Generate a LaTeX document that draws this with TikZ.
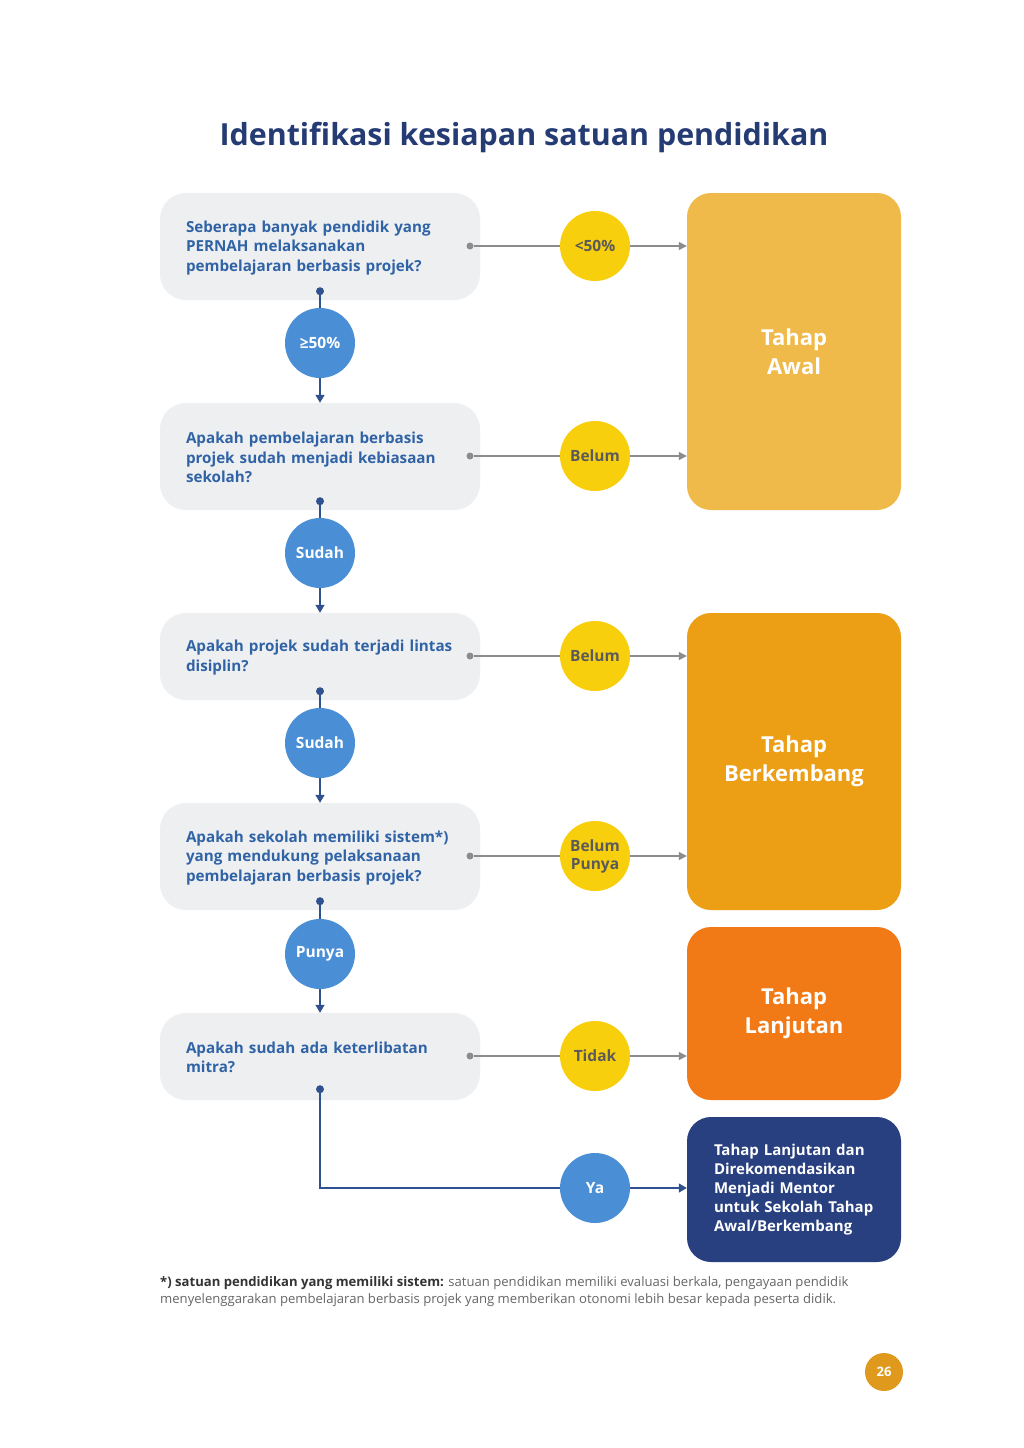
\documentclass[tikz,border=0pt]{standalone}
\usepackage{fontspec}
\setmainfont{Open Sans}
\usetikzlibrary{arrows.meta}

\definecolor{judul}{HTML}{253B73}
\definecolor{tanya}{HTML}{2F63A6}
\definecolor{kotak}{HTML}{EEEFF1}
\definecolor{kuning}{HTML}{F8CF0C}
\definecolor{teksabu}{HTML}{5A5A5A}
\definecolor{biru}{HTML}{4A8FD6}
\definecolor{garisbiru}{HTML}{30518F}
\definecolor{abu}{HTML}{8C8C8C}
\definecolor{awal}{HTML}{F0BA4B}
\definecolor{kembang}{HTML}{EC9E14}
\definecolor{lanjut}{HTML}{F27A16}
\definecolor{mentor}{HTML}{283F80}
\definecolor{halaman}{HTML}{DF9A1E}

\tikzset{
  tanyabox/.style={fill=kotak, rounded corners=26pt, text width=268pt, inner xsep=26pt,
    align=left, text=tanya, font=\bfseries\fontsize{15.2}{19.5}\selectfont},
  tahapbox/.style={rounded corners=24pt, minimum width=214pt, text=white, align=center,
    font=\bfseries\fontsize{22}{29}\selectfont},
  kuningbulat/.style={circle, fill=kuning, minimum size=70pt, inner sep=0pt, align=center,
    text=teksabu, font=\bfseries\fontsize{15.5}{19}\selectfont},
  birubulat/.style={circle, fill=biru, minimum size=70pt, inner sep=0pt,
    text=white, font=\bfseries\fontsize{15.5}{19}\selectfont},
  titikabu/.style={circle, fill=abu, minimum size=7pt, inner sep=0pt},
  titikbiru/.style={circle, fill=garisbiru, minimum size=8pt, inner sep=0pt},
  garisabu/.style={draw=abu, line width=1.2pt},
  garisbiru/.style={draw=garisbiru, line width=1.2pt},
}

\begin{document}
\begin{tikzpicture}[x=1pt, y=-1pt]
    \useasboundingbox[fill=white] (0,0) rectangle (1024,1448);

    % 标题
    \node[text=judul, font=\bfseries\fontsize{30.4}{36}\selectfont] (judul) at (524,138) {Identifikasi kesiapan satuan pendidikan};

    % 问题框
    \node[tanyabox, minimum height=107pt] (q1) at (320,246.5) {\strut Seberapa banyak pendidik yang\\PERNAH melaksanakan\\pembelajaran berbasis projek?};
    \node[tanyabox, minimum height=107pt] (q2) at (320,456.5) {\strut Apakah pembelajaran berbasis\\projek sudah menjadi kebiasaan\\sekolah?};
    \node[tanyabox, minimum height=87pt] (q3) at (320,656.5) {\strut Apakah projek sudah terjadi lintas\\disiplin?};
    \node[tanyabox, minimum height=107pt] (q4) at (320,856.5) {\strut Apakah sekolah memiliki sistem*)\\yang mendukung pelaksanaan\\pembelajaran berbasis projek?};
    \node[tanyabox, minimum height=87pt] (q5) at (320,1056.5) {\strut Apakah sudah ada keterlibatan\\mitra?};

    % 阶段框
    \node[tahapbox, fill=awal, minimum height=317pt] (awal) at (794,351.5) {Tahap\\Awal};
    \node[tahapbox, fill=kembang, minimum height=297pt] (kembang) at (794,761.5) {Tahap\\Berkembang};
    \node[tahapbox, fill=lanjut, minimum height=173pt] (lanjut) at (794,1013.5) {Tahap\\Lanjutan};
    \node[tahapbox, fill=mentor, minimum height=145pt, text width=166pt, inner xsep=24pt, align=left,
      font=\bfseries\fontsize{15}{19.2}\selectfont] (mentor) at (794,1189.5)
      {\hspace*{3pt}Tahap Lanjutan dan\\\hspace*{3pt}Direkomendasikan\\\hspace*{3pt}Menjadi Mentor\\\hspace*{3pt}untuk Sekolah Tahap\\\hspace*{3pt}Awal/Berkembang};

    % 灰色连线 (否)
    \foreach \i/\yy/\teks/\tujuan in {1/246/{<50\%}/awal, 2/456/Belum/awal, 3/656/Belum/kembang,
        4/856/{Belum\\[-1pt]Punya}/kembang, 5/1056/Tidak/lanjut} {
      \node[titikabu] (g\i) at (470,\yy) {};
      \node[kuningbulat] (k\i) at (595,\yy) {\teks};
      \draw[garisabu] (g\i) -- (k\i);
      \draw[garisabu, -{Triangle[length=8pt, width=8pt]}] (k\i) -- (k\i -| \tujuan.west);
    }

    % 蓝色连线 (是)
    \foreach \i/\j/\yy/\teks in {1/2/343/{≥50\%}, 2/3/553/Sudah, 3/4/743/Sudah, 4/5/954/Punya} {
      \node[titikbiru] (b\i) at ([yshift=9pt]q\i.south) {};
      \node[birubulat] (c\i) at (320,\yy) {\teks};
      \draw[garisbiru] (b\i) -- (c\i);
      \draw[garisbiru, -{Triangle[length=8pt, width=9pt]}] (c\i) -- (q\j.north);
    }
    \node[titikbiru] (b5) at ([yshift=11pt]q5.south) {};
    \node[birubulat] (ya) at (595,1188) {Ya};
    \draw[garisbiru] (b5) |- (ya);
    \draw[garisbiru, -{Triangle[length=8pt, width=9pt]}] (ya) -- (ya -| mentor.west);

    % 脚注
    \node[anchor=north west, inner sep=0pt, align=left, text=black!60,
      font=\fontsize{13.1}{17}\selectfont] (catatan) at (160,1276)
      {\textcolor{black!80}{\bfseries *) satuan pendidikan yang memiliki sistem:} satuan pendidikan memiliki evaluasi berkala, pengayaan pendidik\\
       menyelenggarakan pembelajaran berbasis projek yang memberikan otonomi lebih besar kepada peserta didik.};

    % 页码
    \node[circle, fill=halaman, minimum size=38pt, inner sep=0pt, text=white,
      font=\bfseries\fontsize{13}{15}\selectfont] (hal) at (884,1372) {26};
\end{tikzpicture}
\end{document}
